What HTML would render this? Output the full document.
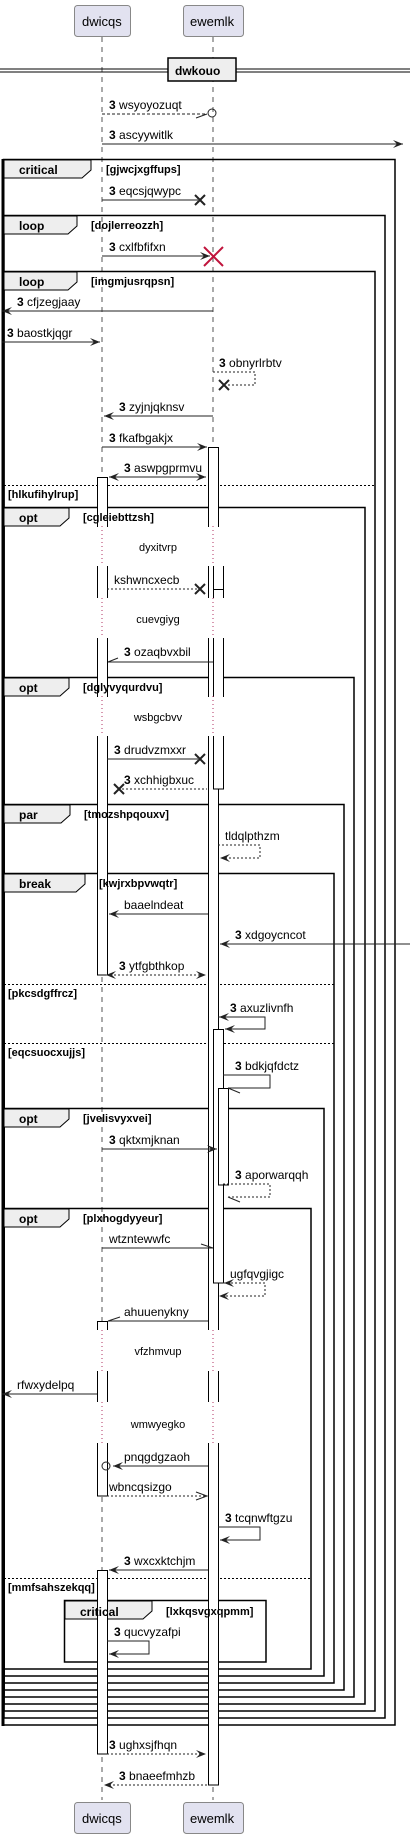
<!DOCTYPE html>
<html><head><meta charset="utf-8"><style>
html,body{margin:0;padding:0;background:#fff}
svg{display:block}
text{font-family:"Liberation Sans",sans-serif;fill:#000}
.m{font-size:12px}
.b{font-weight:bold}
.f{font-size:12px;font-weight:bold}
.c{font-size:11px;font-weight:bold}
.d{font-size:11px}
</style></head><body>
<svg width="410" height="1839" viewBox="0 0 410 1839" xmlns="http://www.w3.org/2000/svg">
<defs>
<g id="ar"><polygon points="0,0 -10,-4 -6,0 -10,4" fill="#222"/></g>
<g id="al"><polygon points="0,0 10,-4 6,0 10,4" fill="#222"/></g>
</defs>
<!-- lifelines -->
<g stroke="#555" stroke-dasharray="5,5" stroke-width="1">
<line x1="102" y1="37" x2="102" y2="1800"/>
<line x1="213" y1="37" x2="213" y2="1800"/>
</g>
<!-- participants -->
<g fill="#e2e2f0" stroke="#888">
<rect x="74.5" y="5.5" width="56" height="31" rx="3"/>
<rect x="183.5" y="5.5" width="60" height="31" rx="3"/>
<rect x="74.5" y="1802.5" width="56" height="31" rx="3"/>
<rect x="183.5" y="1802.5" width="60" height="31" rx="3"/>
</g>
<g class="m"><text x="82" y="26" style="font-size:13px">dwicqs</text><text x="190" y="26" style="font-size:13px">ewemlk</text>
<text x="82" y="1823" style="font-size:13px">dwicqs</text><text x="190" y="1823" style="font-size:13px">ewemlk</text></g>
<!-- divider -->
<line x1="0" y1="69" x2="410" y2="69" stroke="#000"/><line x1="0" y1="72" x2="410" y2="72" stroke="#000"/>
<rect x="168" y="58" width="68" height="23" fill="#eee" stroke="#000" stroke-width="1.5"/>
<text x="175" y="75" class="f">dwkouo</text>

<!-- frames -->
<g fill="none" stroke="#000" stroke-width="1.5">
<rect x="3.5" y="159.5" width="391.5" height="1565.5"/>
<rect x="4" y="215.5" width="381" height="1502.5"/>
<rect x="4" y="271.5" width="371" height="1439.5"/>
<rect x="4" y="507.5" width="361" height="1196.5"/>
<rect x="4" y="677.5" width="350" height="1019.5"/>
<rect x="4" y="804.5" width="340" height="885.5"/>
<rect x="4" y="873.5" width="330" height="809.5"/>
<rect x="4" y="1108.5" width="320" height="567.5"/>
<rect x="4" y="1208.5" width="307" height="460.5"/>
<rect x="64.5" y="1600.5" width="201.5" height="61.5"/>
</g>
<line x1="3" y1="159" x2="3" y2="1726" stroke="#000" stroke-width="3"/>
<g fill="#eee" stroke="#000" stroke-width="1">
<polygon points="4,160 91,160 91,170 82,178 4,178"/>
<polygon points="4,216 77,216 77,226 68,234 4,234"/>
<polygon points="4,272 77,272 77,282 68,290 4,290"/>
<polygon points="4,508 69,508 69,518 60,526 4,526"/>
<polygon points="4,678 69,678 69,688 60,696 4,696"/>
<polygon points="4,805 70,805 70,815 61,823 4,823"/>
<polygon points="4,874 85,874 85,884 76,892 4,892"/>
<polygon points="4,1109 69,1109 69,1119 60,1127 4,1127"/>
<polygon points="4,1209 69,1209 69,1219 60,1227 4,1227"/>
<polygon points="65,1601 152,1601 152,1611 143,1619 65,1619"/>
</g>
<g stroke="#000" stroke-dasharray="2,2">
<line x1="4" y1="485.5" x2="375" y2="485.5"/><line x1="4" y1="984.5" x2="334" y2="984.5"/>
<line x1="4" y1="1043.5" x2="334" y2="1043.5"/><line x1="4" y1="1578.5" x2="311" y2="1578.5"/>
</g>

<!-- activations -->
<g fill="#fff" stroke="#000">
<rect x="208.5" y="447.5" width="10" height="1337.5"/>
<rect x="97.5" y="477.5" width="10" height="497.5"/>
<rect x="213.5" y="589.5" width="10" height="199.5"/>
<rect x="213.5" y="1029.5" width="10" height="253.5"/>
<rect x="218.5" y="1088.5" width="10" height="96.5"/>
<rect x="97.5" y="1321.5" width="10" height="174.5"/>
<rect x="97.5" y="1570.5" width="10" height="183.5"/>
</g>
<!-- delays -->
<g fill="#fff"><rect x="92" y="527" width="140" height="39"/><rect x="92" y="598" width="140" height="40"/>
<rect x="92" y="697" width="140" height="39"/><rect x="92" y="1330" width="140" height="41"/><rect x="92" y="1402" width="140" height="41"/></g>
<rect x="210" y="566" width="16" height="23" fill="#fff"/>
<g stroke="#000"><line x1="213.5" y1="566" x2="213.5" y2="589"/><line x1="223.5" y1="566" x2="223.5" y2="589"/></g>
<g stroke="#b03060" stroke-dasharray="1,3">
<line x1="102" y1="526" x2="102" y2="566"/><line x1="213" y1="526" x2="213" y2="566"/>
<line x1="102" y1="598" x2="102" y2="638"/><line x1="213" y1="598" x2="213" y2="638"/>
<line x1="102" y1="696" x2="102" y2="736"/><line x1="213" y1="696" x2="213" y2="736"/>
<line x1="102" y1="1330" x2="102" y2="1371"/><line x1="213" y1="1330" x2="213" y2="1371"/>
<line x1="102" y1="1402" x2="102" y2="1443"/><line x1="213" y1="1402" x2="213" y2="1443"/>
</g>
<g class="d" text-anchor="middle">
<text x="158" y="551">dyxitvrp</text><text x="158" y="623">cuevgiyg</text><text x="158" y="721">wsbgcbvv</text>
<text x="158" y="1355">vfzhmvup</text><text x="158" y="1428">wmwyegko</text>
</g>

<!-- messages -->
<g stroke="#222" fill="none">
<line x1="102" y1="114" x2="207" y2="114" stroke-dasharray="3,2"/><line x1="196" y1="118" x2="207" y2="114"/>
<circle cx="212" cy="113" r="4"/>
<line x1="102" y1="144" x2="403" y2="144"/>
<line x1="102" y1="200" x2="198" y2="200"/>
<line x1="102" y1="256" x2="210" y2="256"/>
<line x1="2" y1="311" x2="213" y2="311"/>
<line x1="2" y1="342" x2="100" y2="342"/>
<polyline points="213,372 255,372 255,385 228,385" stroke-dasharray="2,2"/>
<line x1="104" y1="416" x2="213" y2="416"/>
<line x1="102" y1="447" x2="207" y2="447"/>
<line x1="109" y1="477" x2="206" y2="477"/>
<line x1="107" y1="589" x2="198" y2="589" stroke-dasharray="2,2"/>
<line x1="108" y1="662" x2="213" y2="662"/><line x1="108" y1="662" x2="118" y2="658"/>
<line x1="107" y1="759" x2="198" y2="759"/>
<line x1="122" y1="789" x2="207" y2="789" stroke-dasharray="2,2"/>
<polyline points="218,845 260,845 260,858 220,858" stroke-dasharray="2,2"/>
<line x1="109" y1="914" x2="208" y2="914"/>
<line x1="220" y1="944" x2="410" y2="944"/>
<line x1="106" y1="975" x2="206" y2="975" stroke-dasharray="2,2"/>
<polyline points="218,1017 265,1017 265,1029 225,1029"/>
<polyline points="223,1075 270,1075 270,1088 228,1088"/><line x1="228" y1="1088" x2="240" y2="1093"/>
<line x1="102" y1="1149" x2="217" y2="1149"/>
<polyline points="223,1184 270,1184 270,1197 228,1197" stroke-dasharray="2,2"/><line x1="228" y1="1197" x2="240" y2="1202"/>
<line x1="102" y1="1248" x2="213" y2="1248"/><line x1="213" y1="1248" x2="201" y2="1244"/>
<polyline points="223,1283 265,1283 265,1296 224,1296" stroke-dasharray="2,2"/>
<line x1="108" y1="1321" x2="208" y2="1321"/><line x1="108" y1="1321" x2="120" y2="1317"/>
<line x1="2" y1="1394" x2="97" y2="1394"/>
<line x1="113" y1="1466" x2="208" y2="1466"/>
<circle cx="106" cy="1466" r="4"/>
<line x1="107" y1="1496" x2="207" y2="1496" stroke-dasharray="2,2"/><polyline points="196,1492 207,1496 196,1500"/>
<polyline points="218,1527 260,1527 260,1540 220,1540"/>
<line x1="109" y1="1570" x2="208" y2="1570"/>
<polyline points="107,1641 149,1641 149,1654 109,1654"/>
<line x1="107" y1="1754" x2="206" y2="1754" stroke-dasharray="2,2"/>
<line x1="105" y1="1785" x2="208" y2="1785" stroke-dasharray="2,2"/>
</g>
<!-- X marks -->
<g stroke="#222" stroke-width="2">
<path d="M195,195 l10,10 M205,195 l-10,10"/>
<path d="M219,380 l10,10 M229,380 l-10,10"/>
<path d="M195,584 l10,10 M205,584 l-10,10"/>
<path d="M195,754 l10,10 M205,754 l-10,10"/>
<path d="M114,784 l10,10 M124,784 l-10,10"/>
</g>
<path d="M204,247 l19,19 M223,247 l-19,19" stroke="#c0143c" stroke-width="2"/>
<!-- arrowheads -->
<use href="#ar" x="403" y="144"/>
<use href="#ar" x="210" y="256"/>
<use href="#al" x="2" y="311"/>
<use href="#ar" x="100" y="342"/>
<use href="#al" x="104" y="416"/>
<use href="#ar" x="207" y="447"/>
<use href="#al" x="109" y="477"/><use href="#ar" x="206" y="477"/>
<use href="#al" x="220" y="858"/>
<use href="#al" x="109" y="914"/>
<use href="#al" x="220" y="944"/>
<use href="#al" x="106" y="975"/><use href="#ar" x="206" y="975"/>
<use href="#al" x="219" y="1017"/><use href="#al" x="225" y="1029"/>
<use href="#ar" x="217" y="1149"/>
<use href="#al" x="224" y="1283"/><use href="#al" x="219" y="1296"/>
<use href="#al" x="2" y="1394"/>
<use href="#al" x="113" y="1466"/>
<use href="#al" x="220" y="1540"/>
<use href="#al" x="109" y="1570"/>
<use href="#al" x="109" y="1654"/>
<use href="#ar" x="206" y="1754"/>
<use href="#al" x="104" y="1785"/>
<!-- frame labels (on top) -->
<g class="f">
<text x="19" y="174">critical</text><text x="19" y="230">loop</text><text x="19" y="286">loop</text>
<text x="19" y="522">opt</text><text x="19" y="692">opt</text><text x="19" y="819">par</text>
<text x="19" y="888">break</text><text x="19" y="1123">opt</text><text x="19" y="1223">opt</text>
<text x="80" y="1616">critical</text>
</g>
<g class="c">
<text x="106" y="173">[gjwcjxgffups]</text><text x="91" y="229">[dojlerreozzh]</text><text x="91" y="285">[imgmjusrqpsn]</text>
<text x="83" y="521">[cgleiebttzsh]</text><text x="83" y="691">[dglyvyqurdvu]</text><text x="84" y="818">[tmozshpqouxv]</text>
<text x="99" y="887">[kwjrxbpvwqtr]</text><text x="83" y="1122">[jvelisvyxvei]</text><text x="83" y="1222">[plxhogdyyeur]</text>
<text x="166" y="1615">[lxkqsvgxqpmm]</text>
<text x="8" y="498">[hlkufihylrup]</text><text x="8" y="997">[pkcsdgffrcz]</text><text x="8" y="1056">[eqcsuocxujjs]</text>
<text x="8" y="1591">[mmfsahszekqq]</text>
</g>
<!-- labels -->
<g class="m">
<text x="109" y="109"><tspan class="b">3</tspan> wsyoyozuqt</text>
<text x="109" y="139"><tspan class="b">3</tspan> ascyywitlk</text>
<text x="109" y="195"><tspan class="b">3</tspan> eqcsjqwypc</text>
<text x="109" y="251"><tspan class="b">3</tspan> cxlfbfifxn</text>
<text x="17" y="306"><tspan class="b">3</tspan> cfjzegjaay</text>
<text x="7" y="337"><tspan class="b">3</tspan> baostkjqgr</text>
<text x="219" y="367"><tspan class="b">3</tspan> obnyrlrbtv</text>
<text x="119" y="411"><tspan class="b">3</tspan> zyjnjqknsv</text>
<text x="109" y="442"><tspan class="b">3</tspan> fkafbgakjx</text>
<text x="124" y="472"><tspan class="b">3</tspan> aswpgprmvu</text>
<text x="114" y="584">kshwncxecb</text>
<text x="124" y="656"><tspan class="b">3</tspan> ozaqbvxbil</text>
<text x="114" y="754"><tspan class="b">3</tspan> drudvzmxxr</text>
<text x="124" y="784"><tspan class="b">3</tspan> xchhigbxuc</text>
<text x="225" y="840">tldqlpthzm</text>
<text x="124" y="909">baaelndeat</text>
<text x="235" y="939"><tspan class="b">3</tspan> xdgoycncot</text>
<text x="119" y="970"><tspan class="b">3</tspan> ytfgbthkop</text>
<text x="230" y="1012"><tspan class="b">3</tspan> axuzlivnfh</text>
<text x="235" y="1070"><tspan class="b">3</tspan> bdkjqfdctz</text>
<text x="109" y="1144"><tspan class="b">3</tspan> qktxmjknan</text>
<text x="235" y="1179"><tspan class="b">3</tspan> aporwarqqh</text>
<text x="109" y="1243">wtzntewwfc</text>
<text x="230" y="1278">ugfqvgjigc</text>
<text x="124" y="1316">ahuuenykny</text>
<text x="17" y="1389">rfwxydelpq</text>
<text x="124" y="1461">pnqgdgzaoh</text>
<text x="109" y="1491">wbncqsizgo</text>
<text x="225" y="1522"><tspan class="b">3</tspan> tcqnwftgzu</text>
<text x="124" y="1565"><tspan class="b">3</tspan> wxcxktchjm</text>
<text x="114" y="1636"><tspan class="b">3</tspan> qucvyzafpi</text>
<text x="109" y="1749"><tspan class="b">3</tspan> ughxsjfhqn</text>
<text x="119" y="1780"><tspan class="b">3</tspan> bnaeefmhzb</text>
</g>
</svg>
</body></html>
